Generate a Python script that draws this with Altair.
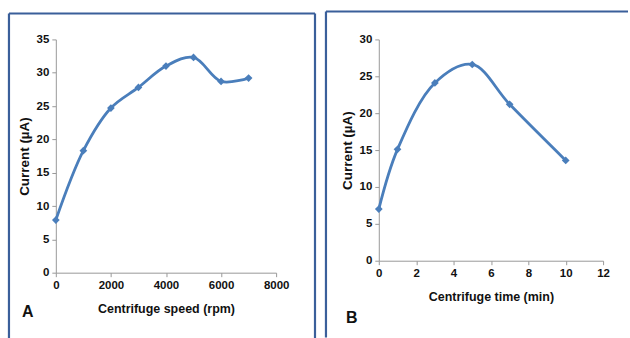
import altair as alt
import pandas as pd

speed = [0, 1000, 2000, 3000, 4000, 5000, 6000, 7000]
current_a = [7.9, 18.3, 24.7, 27.8, 31.0, 32.3, 28.7, 29.2]
time_min = [0, 1, 3, 5, 7, 10]
current_b = [7.0, 15.1, 24.1, 26.6, 21.2, 13.6]

df_a = pd.DataFrame({"x": speed, "y": current_a})
df_b = pd.DataFrame({"x": time_min, "y": current_b})

BLUE = "#4A7EBB"
BORDER = "#3A5F9A"
FONT = "Liberation Sans"


def vrule(x, y1, y2):
    return alt.Chart(pd.DataFrame({"k": [0]})).mark_rule(stroke=BORDER, strokeWidth=2.2).encode(
        x=alt.value(x), y=alt.value(y1), y2=alt.value(y2))


def hrule(x1, x2, y):
    return alt.Chart(pd.DataFrame({"k": [0]})).mark_rule(stroke=BORDER, strokeWidth=2.2).encode(
        x=alt.value(x1), x2=alt.value(x2), y=alt.value(y))


def panel(df, xdom, xstep, ydom, ystep, xtitle, letter, w, h, left, top, right, bottom, letter_pos):
    x = alt.X("x:Q", scale=alt.Scale(domain=xdom, nice=False),
              axis=alt.Axis(title=xtitle, values=list(range(xdom[0], xdom[1] + 1, xstep)),
                            format="d", labelOverlap=False, labelFlush=False,
                            grid=False, domainColor="#999999", tickColor="#999999",
                            tickSize=4, labelPadding=3, titlePadding=11))
    y = alt.Y("y:Q", scale=alt.Scale(domain=ydom, nice=False),
              axis=alt.Axis(title="Current (µA)", values=list(range(ydom[0], ydom[1] + 1, ystep)),
                            format="d", labelOverlap=False, labelFlush=False,
                            grid=False, domainColor="#999999", tickColor="#999999",
                            tickSize=4, labelPadding=3, titlePadding=5, titleFontSize=13.5))
    base = alt.Chart(df).encode(x=x, y=y)
    line = base.mark_line(color=BLUE, strokeWidth=2.8, interpolate="catmull-rom")
    pts = base.mark_point(shape="diamond", filled=True, color=BLUE, size=60, opacity=1)
    layers = [vrule(left, top, bottom), hrule(left, right, top)]
    if letter == "A":
        layers.append(vrule(right, top, bottom))
    lab = alt.Chart(pd.DataFrame({"k": [0]})).mark_text(
        text=letter, font=FONT, fontWeight="bold", fontSize=16,
        color="#111111", align="left", baseline="middle").encode(
        x=alt.value(letter_pos[0]), y=alt.value(letter_pos[1]))
    layers += [line, pts, lab]
    return alt.layer(*layers).properties(width=w, height=h)


a = panel(df_a, [0, 8000], 2000, [0, 35], 5, "Centrifuge speed (rpm)", "A", 221, 234,
          -47, -26, 260, 301, (-34, 273))
b = panel(df_b, [0, 12], 2, [0, 30], 5, "Centrifuge time (min)", "B", 225, 222,
          -53, -28, 250, 299, (-33, 279))

chart = alt.hconcat(a, b, spacing=7).properties(
    padding={"left": 7, "top": 9, "right": 0, "bottom": 0},
    background="white",
).configure_view(stroke=None).configure_axis(
    labelFont=FONT, labelFontWeight="bold", labelFontSize=11.5, labelColor="#111111",
    titleFont=FONT, titleFontWeight="bold", titleFontSize=12.5, titleColor="#111111",
)

chart.save("out.html", embed_options={"renderer": "svg", "actions": False})
